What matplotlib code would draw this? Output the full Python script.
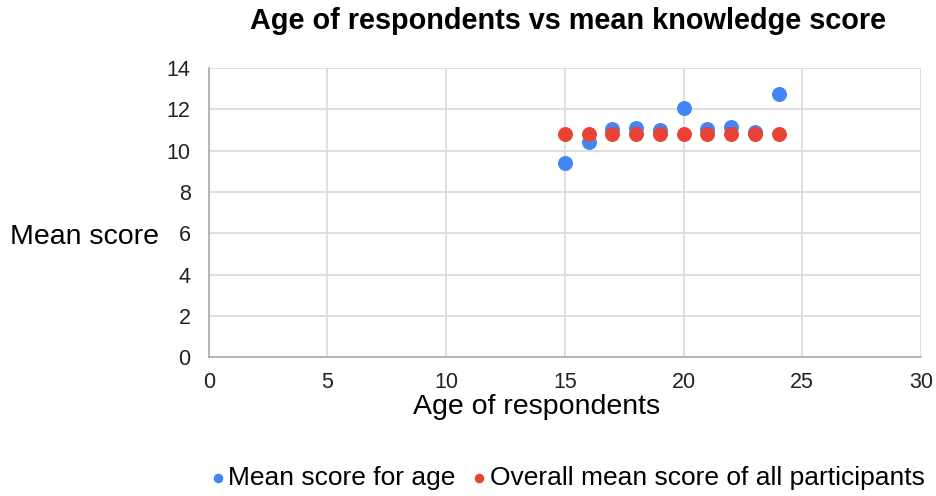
import numpy as np
import matplotlib
matplotlib.use("Agg")
import matplotlib.pyplot as plt

plt.rcParams['font.family'] = ['Liberation Sans', 'DejaVu Sans']

ages = [15, 16, 17, 18, 19, 20, 21, 22, 23, 24]
mean_score_age = [9.38, 10.40, 11.03, 11.11, 11.00, 12.05, 11.03, 11.16, 10.89, 12.73]
overall_mean = [10.78] * len(ages)

blue = "#4285f4"
red = "#ea4335"

fig = plt.figure(figsize=(9.36, 4.96), dpi=100)
ax = fig.add_axes([0.223, 0.280, 0.761, 0.583])

ax.scatter(ages, mean_score_age, s=95, color=blue, zorder=3, label="Mean score for age")
ax.scatter(ages, overall_mean, s=95, color=red, zorder=4, label="Overall mean score of all participants")

ax.set_xlim(0, 30)
ax.set_ylim(0, 14)
ax.set_xticks(range(0, 31, 5))
ax.set_yticks(range(0, 15, 2))
ax.grid(True, color="#d9d9d9", linewidth=1.2)
ax.set_axisbelow(True)
for s in ["top", "right"]:
    ax.spines[s].set_visible(False)
for s in ["left", "bottom"]:
    ax.spines[s].set_color("#aaaaaa")
    ax.spines[s].set_linewidth(1.2)
ax.tick_params(length=0, labelsize=15.5, colors="#222222")
ax.tick_params(axis="x", pad=11)
ax.tick_params(axis="y", pad=13)

fig.text(0.607, 0.957, "Age of respondents vs mean knowledge score",
         ha="center", va="center", fontsize=20.8, fontweight="bold")
fig.text(0.011, 0.522, "Mean score", ha="left", va="center", fontsize=20.5)
fig.text(0.573, 0.179, "Age of respondents", ha="center", va="center", fontsize=20.5)

fig.legend(loc="center", bbox_to_anchor=(0.606, 0.036), ncol=2, frameon=False,
           fontsize=19, handlelength=0.6, handletextpad=0.1, columnspacing=0.6,
           markerscale=0.6)

fig.savefig("out.png", dpi=100)
